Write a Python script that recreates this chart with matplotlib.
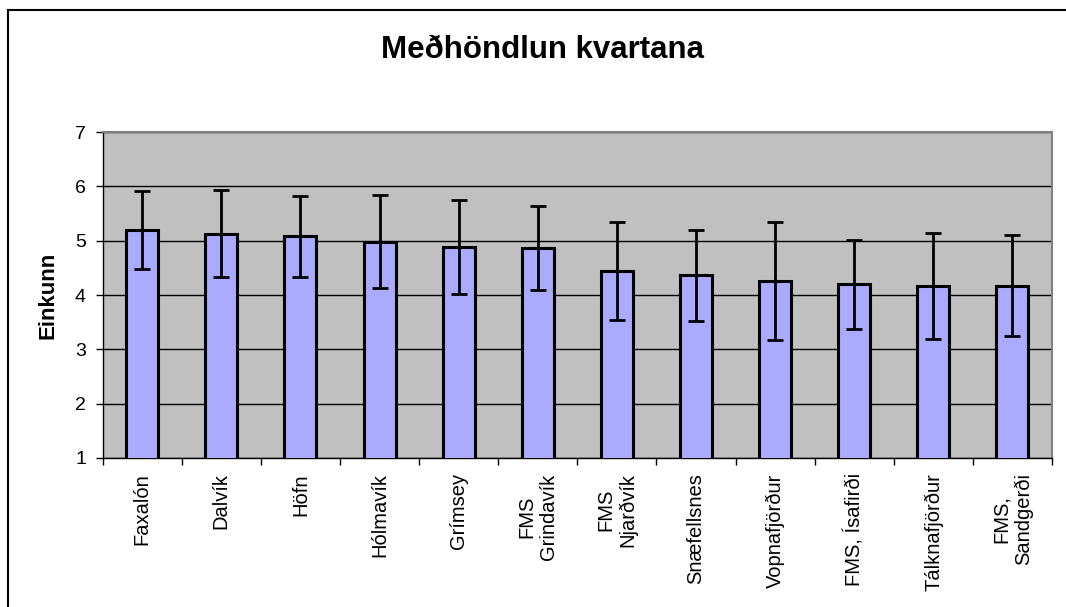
import matplotlib
matplotlib.use('Agg')
import matplotlib.pyplot as plt
from matplotlib.lines import Line2D

plt.rcParams['font.family'] = ['Liberation Sans', 'DejaVu Sans']

# Data
places = ['Faxalón', 'Dalvík', 'Höfn', 'Hólmavík', 'Grímsey', 'FMS\nGrindavík',
          'FMS\nNjarðvík', 'Snæfellsnes', 'Vopnafjörður', 'FMS, Ísafirði',
          'Tálknafjörður', 'FMS,\nSandgerði']
means = [5.20, 5.13, 5.08, 4.98, 4.88, 4.87, 4.44, 4.36, 4.26, 4.20, 4.17, 4.17]
errors = [0.72, 0.80, 0.75, 0.86, 0.86, 0.77, 0.90, 0.83, 1.09, 0.82, 0.98, 0.93]
y_ticks = [1, 2, 3, 4, 5, 6, 7]

fig = plt.figure(figsize=(10.66, 6.07), dpi=100)
ax = fig.add_axes([0.0963, 0.2455, 0.8906, 0.537])
ax.set_facecolor('#C0C0C0')

x = list(range(len(places)))
ax.bar(x, means, width=0.405, color='#AAAAFF', edgecolor='black', linewidth=2.2, zorder=3)
ax.errorbar(x, means, yerr=errors, fmt='none', ecolor='black', elinewidth=2,
            capsize=6, capthick=2, zorder=4)

ax.set_ylim(1, 7)
ax.set_xlim(-0.5, len(places) - 0.5)
ax.set_yticks(y_ticks)
ax.yaxis.grid(True, color='black', linewidth=1)
ax.set_axisbelow(True)

# category labels under the bars, ticks on the boundaries
ax.set_xticks(x)
ax.set_xticklabels(places, rotation=90, va='top', ha='center', multialignment='center',
                   fontsize=14.5)
ax.set_xticks([i - 0.5 for i in range(len(places) + 1)], minor=True)
ax.tick_params(axis='x', which='major', length=0, pad=11)
ax.tick_params(axis='x', which='minor', length=5, width=1, direction='out', color='black')
ax.tick_params(axis='y', labelsize=14, length=5, width=1, direction='out', pad=7)

for side in ['top', 'right']:
    ax.spines[side].set_color('#808080')
    ax.spines[side].set_linewidth(1.5)
for side in ['left', 'bottom']:
    ax.spines[side].set_color('black')
    ax.spines[side].set_linewidth(1)

ax.set_ylabel('Einkunn', fontsize=16, fontweight='bold', labelpad=12)
fig.text(0.509, 0.918, 'Meðhöndlun kvartana', fontsize=22.5, fontweight='bold',
         ha='center', va='center')

# chart frame (runs past the right and bottom edges)
fig.add_artist(Line2D([8 / 1066, 8 / 1066], [0, 1 - 10 / 607], color='black', linewidth=1.5))
fig.add_artist(Line2D([8 / 1066, 1], [1 - 10 / 607, 1 - 10 / 607], color='black', linewidth=1.5))

fig.savefig('out.png', dpi=100)
